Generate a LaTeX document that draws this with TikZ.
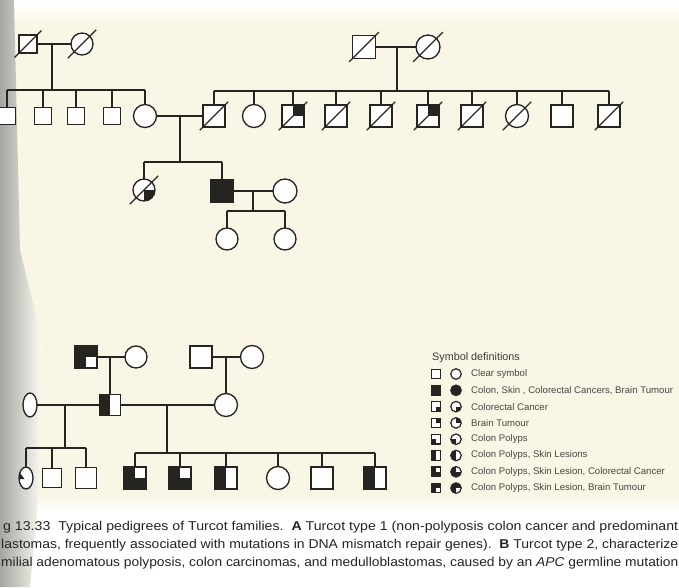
\documentclass[tikz,border=0pt]{standalone}
\usepackage{fontspec}
\setmainfont{Liberation Sans}
\usepackage{graphicx}
\usetikzlibrary{shapes.geometric,calc}
\definecolor{paper}{RGB}{249,246,229}
\definecolor{ink}{RGB}{38,36,33}
\definecolor{binding}{RGB}{165,165,161}
\newcommand\slashsym[2]{\draw[pl] ($(#1.center)+(225:#2)$) -- ($(#1.center)+(45:#2)$);}
\begin{document}
\begin{tikzpicture}[x=1pt,y=-1pt,
  pl/.style={draw=ink, line width=1.15pt},
  sym/.style={draw=ink, line width=1.35pt, fill=white, inner sep=0pt, outer sep=0pt},
  sq/.style={sym, rectangle, minimum size=#1}, sq/.default=22,
  ci/.style={sym, circle, minimum size=#1}, ci/.default=22,
  ov/.style={sym, ellipse, minimum width=14, minimum height=#1}, ov/.default=24,
  full/.style={fill=ink},
  qtr/.style={path picture={\fill[ink] (path picture bounding box.center) rectangle (path picture bounding box.north east);}},
  qbr/.style={path picture={\fill[ink] (path picture bounding box.center) rectangle (path picture bounding box.south east);}},
  qbl/.style={path picture={\fill[ink] (path picture bounding box.center) rectangle (path picture bounding box.south west);}},
  lhalf/.style={path picture={\fill[ink] (path picture bounding box.south west) rectangle (path picture bounding box.north);}},
  lhbr/.style={path picture={\fill[ink] (path picture bounding box.south west) rectangle (path picture bounding box.north);
      \fill[ink] (path picture bounding box.center) rectangle (path picture bounding box.south east);}},
  lhtr/.style={path picture={\fill[ink] (path picture bounding box.south west) rectangle (path picture bounding box.north);
      \fill[ink] (path picture bounding box.center) rectangle (path picture bounding box.north east);}},
  blob/.style={path picture={\fill[ink] (path picture bounding box.center) ++(-1.5pt,-1pt) -- ++(-6pt,0pt) -- ++(0pt,8pt) -- cycle;}},
  lsq/.style={sq=9.5, line width=1.2pt},
  lci/.style={ci=10.5, line width=1.2pt},
  ltxt/.style={anchor=west, inner sep=0pt, text=ink!85, font=\fontsize{9.6}{11}\selectfont},
  captxt/.style={anchor=base west, inner sep=0pt, text=ink, font=\fontsize{12.8}{14}\selectfont}
]
\useasboundingbox (0,0) rectangle (679,587);
% background
\fill[white] (0,0) rectangle (679,587);
\shade[top color=white, bottom color=paper] (0,0) rectangle (679,28);
\fill[paper] (0,28) rectangle (679,496);
\shade[top color=paper, bottom color=white] (0,496) rectangle (679,512);
\shade[left color=binding, right color=white!50!paper] (0,0) -- (14,0) -- (20,250) -- (42,340) -- (40,480) -- (30,587) -- (0,587) -- cycle;

%%%%%%%%%% Pedigree A %%%%%%%%%%
% generation I
\node[sq=18] (a1) at (28,44) {};
\node[ci] (a2) at (82,44) {};
\node[sq=23] (r1) at (364,47) {};
\node[ci=24] (r2) at (428,47) {};
\draw[pl] (a1) -- (a2);
\draw[pl] (r1) -- (r2);
\slashsym{a1}{19pt}\slashsym{a2}{20pt}\slashsym{r1}{21pt}\slashsym{r2}{21pt}
\coordinate (am) at (52,44);
\coordinate (as) at (52,90);
\coordinate (rm) at (397,47);
\coordinate (rs) at (397,91);
\draw[pl] (am) -- (as);
\draw[pl] (rm) -- (rs);

% generation II
\node[sq=17] (b0) at (7,116) {};
\node[sq=17] (b1) at (43,116) {};
\node[sq=17] (b2) at (76,116) {};
\node[sq=17] (b3) at (112,116) {};
\node[ci=23] (b4) at (145,116) {};
\foreach \n in {b0,b1,b2,b3,b4} \draw[pl] (\n.north) -- (\n.north |- as);
\draw[pl] (b0.north |- as) -- (b4.north |- as);

\node[sq] (c1) at (214,116) {};
\node[ci=23] (c2) at (254,116) {};
\node[sq, qtr] (c3) at (293,116) {};
\node[sq] (c4) at (336,116) {};
\node[sq] (c5) at (381,116) {};
\node[sq, qtr] (c6) at (428,116) {};
\node[sq] (c7) at (472,116) {};
\node[ci=23] (c8) at (517,116) {};
\node[sq] (c9) at (562,116) {};
\node[sq] (c10) at (609,116) {};
\foreach \n in {c1,c2,c3,c4,c5,c6,c7,c8,c9,c10} \draw[pl] (\n.north) -- (\n.north |- rs);
\draw[pl] (c1.north |- rs) -- (c10.north |- rs);
\foreach \n in {c1,c3,c4,c5,c6,c7,c8,c10} {\slashsym{\n}{20pt}}

\draw[pl] (b4) -- (c1);
\coordinate (bm) at (180,116);
\coordinate (bs) at (180,162);
\draw[pl] (bm) -- (bs);

% generation III
\node[ci, qbr] (d1) at (144,190) {};
\node[sq=23, full] (d2) at (222,191) {};
\node[ci=24] (d3) at (285,191) {};
\slashsym{d1}{20pt}
\draw[pl] (d1.north) -- (d1.north |- bs);
\draw[pl] (d2.north) -- (d2.north |- bs);
\draw[pl] (d1.north |- bs) -- (d2.north |- bs);
\draw[pl] (d2) -- (d3);
\coordinate (dm) at (253,191);
\coordinate (ds) at (253,211);
\draw[pl] (dm) -- (ds);
% generation IV
\node[ci] (e1) at (227,239) {};
\node[ci] (e2) at (285,239) {};
\draw[pl] (e1.north) -- (e1.north |- ds);
\draw[pl] (e2.north) -- (e2.north |- ds);
\draw[pl] (e1.north |- ds) -- (e2.north |- ds);

%%%%%%%%%% Pedigree B %%%%%%%%%%
\node[sq, fill=ink, path picture={\fill[white] (path picture bounding box.center) rectangle ([shift={(-1.3pt,1.3pt)}]path picture bounding box.south east);}] (f1) at (86,357) {};
\node[ci] (f2) at (136,357) {};
\node[sq] (f3) at (201,357) {};
\node[ci=23] (f4) at (252,357) {};
\draw[pl] (f1) -- (f2);
\draw[pl] (f3) -- (f4);

\node[ov] (g1) at (30,405) {};
\node[sq=21, lhalf] (g2) at (110,405) {};
\node[ci=23] (g3) at (226,405) {};
\draw[pl] (g1) -- (g2);
\draw[pl] (g2) -- (g3);
\coordinate (fm1) at (110,357);
\coordinate (fm2) at (226,357);
\draw[pl] (fm1) -- (g2);
\draw[pl] (fm2) -- (g3);
\coordinate (gm1) at (65,405);
\coordinate (gs1) at (65,448);
\coordinate (gm2) at (167,405);
\coordinate (gs2) at (167,453);
\draw[pl] (gm1) -- (gs1);
\draw[pl] (gm2) -- (gs2);

\node[ov=22, blob] (h1) at (26,478) {};
\node[sq=19] (h2) at (52,478) {};
\node[sq=21] (h3) at (86,478) {};
\foreach \n in {h1,h2,h3} \draw[pl] (\n.north) -- (\n.north |- gs1);
\draw[pl] (h1.north |- gs1) -- (h3.north |- gs1);

\node[sq, lhbr] (i1) at (135,478) {};
\node[sq, lhbr] (i2) at (180,478) {};
\node[sq, lhalf] (i3) at (226,478) {};
\node[ci=23] (i4) at (278,478) {};
\node[sq] (i5) at (322,478) {};
\node[sq, lhalf] (i6) at (375,478) {};
\foreach \n in {i1,i2,i3,i4,i5,i6} \draw[pl] (\n.north) -- (\n.north |- gs2);
\draw[pl] (i1.north |- gs2) -- (i6.north |- gs2);

%%%%%%%%%% Legend %%%%%%%%%%
\node[anchor=west, inner sep=0pt, text=ink!90, font=\fontsize{10.8}{12}\selectfont] (lt) at (432,358) {Symbol definitions};
\node[lsq] (s1) at (436,374) {}; \node[lci] (o1) at (456,374) {};
\node[ltxt] (t1) at (471,374) {Clear symbol};
\node[lsq, full] (s2) at (436,390.3) {}; \node[lci, full] (o2) at (456,390.3) {};
\node[ltxt] (t2) at (471,390.3) {Colon, Skin , Colorectal Cancers, Brain Tumour};
\node[lsq, qbr] (s3) at (436,406.6) {}; \node[lci, qbr] (o3) at (456,406.6) {};
\node[ltxt] (t3) at (471,406.6) {Colorectal Cancer};
\node[lsq, qtr] (s4) at (436,422.9) {}; \node[lci, qtr] (o4) at (456,422.9) {};
\node[ltxt] (t4) at (471,422.9) {Brain Tumour};
\node[lsq, qbl] (s5) at (436,439.2) {}; \node[lci, qbl] (o5) at (456,439.2) {};
\node[ltxt] (t5) at (471,439.2) {Colon Polyps};
\node[lsq, lhalf] (s6) at (436,455.5) {}; \node[lci, lhalf] (o6) at (456,455.5) {};
\node[ltxt] (t6) at (471,455.5) {Colon Polyps, Skin Lesions};
\node[lsq, lhbr] (s7) at (436,471.8) {}; \node[lci, lhbr] (o7) at (456,471.8) {};
\node[ltxt] (t7) at (471,471.8) {Colon Polyps, Skin Lesion, Colorectal Cancer};
\node[lsq, lhtr] (s8) at (436,488.1) {}; \node[lci, lhtr] (o8) at (456,488.1) {};
\node[ltxt] (t8) at (471,488.1) {Colon Polyps, Skin Lesion, Brain Tumour};

%%%%%%%%%% Caption %%%%%%%%%%
\node[captxt] (cap1) at (3,530) {\resizebox{675pt}{\height}{g 13.33\ \ Typical pedigrees of Turcot families.\ \ \textbf{A} Turcot type 1 (non-polyposis colon cancer and predominant}};
\node[captxt] (cap2) at (1,548) {\resizebox{677pt}{\height}{lastomas, frequently associated with mutations in DNA mismatch repair genes).\ \ \textbf{B} Turcot type 2, characterize}};
\node[captxt] (cap3) at (1,566) {\resizebox{677pt}{\height}{milial adenomatous polyposis, colon carcinomas, and medulloblastomas, caused by an \textit{APC} germline mutation}};
\end{tikzpicture}
\end{document}
